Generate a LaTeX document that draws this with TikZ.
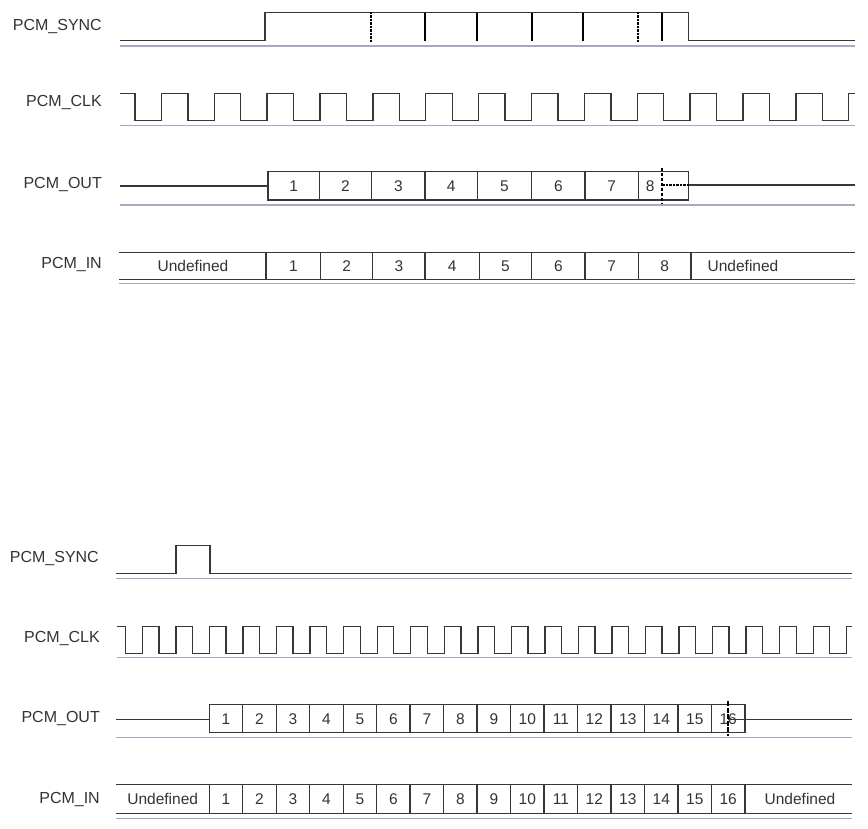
\documentclass[tikz,border=0pt]{standalone}
\usepackage{fontspec}
\setmainfont{Liberation Sans}
\definecolor{basegray}{RGB}{168,168,196}
\definecolor{sigcol}{RGB}{55,55,55}
\begin{document}
\begin{tikzpicture}[x=1pt,y=-1pt,
  sig/.style={draw=sigcol,line width=1.4pt,line join=miter},
  base/.style={draw=basegray,line width=1.3pt},
  smark/.style={draw=black,line width=2pt},
  sdmark/.style={draw=black,line width=2.3pt,dash pattern=on 2.5pt off 1pt},
  lbl/.style={anchor=east,inner sep=0pt,font=\fontsize{16}{18}\selectfont,text=black!80},
  cell/.style={inner sep=0pt,font=\fontsize{15.5}{18}\selectfont,text=black!80}]
\useasboundingbox (0,0) rectangle (868,829);
\fill[white] (0,0) rectangle (868,829);
% ================= TOP =================
\node[lbl] (tsync) at (102,27) {PCM\_SYNC};
\node[lbl] (tclk) at (102,103) {PCM\_CLK};
\node[lbl] (tout) at (102,185) {PCM\_OUT};
\node[lbl] (tin) at (102,265) {PCM\_IN};
% sync
\draw[sig] (120,40.7) -- (265,40.7) -- (265,12.7) -- (688.7,12.7) -- (688.7,40.7) -- (855,40.7);
\foreach \x in {425,477.3,531.7,582.7,662.3} \draw[smark] (\x,12.7) -- (\x,40.7);
\foreach \x in {371,638.3} \draw[sdmark] (\x,11.7) -- (\x,41.7);
\draw[base] (120,46) -- (855,46);
% clk
\draw[sig] (120,93.3) foreach \k in {0,...,13} { -- ({135+52.87*\k},93.3) -- ({135+52.87*\k},120.7) -- ({161.4+52.87*\k},120.7) -- ({161.4+52.87*\k},93.3) } -- (855,93.3);
\draw[base] (120,125.7) -- (855,125.7);
% out
\draw[sig] (120,186) -- (268,186);
\draw[sig] (268,171.7) rectangle (688.7,200);
\foreach \x in {319.3,371.7,425,477.3,531.7,585,638.3} \draw[sig] (\x,171.7) -- (\x,200);
\foreach \a/\b/\n in {268/319.3/1,319.3/371.7/2,371.7/425/3,425/477.3/4,477.3/531.7/5,531.7/585/6,585/638.3/7,638.3/662.3/8}
  \node[cell] (to\n) at ({(\a+\b)/2},186) {\n};
\draw[draw=black,line width=2pt,dash pattern=on 3.5pt off 1.5pt] (662.3,168) -- (662.3,204);
\draw[draw=black,line width=2pt,dash pattern=on 2.5pt off 1pt] (662.3,185) -- (688.7,185);
\draw[sig] (688.7,185) -- (855,185);
\draw[base] (120,205) -- (855,205);
% in
\draw[sig] (119.3,252.3) -- (855,252.3);
\draw[sig] (119.3,279.3) -- (855,279.3);
\draw[base] (119.3,283.3) -- (855,283.3);
\foreach \x in {266,320.7,372.7,425,479.3,531.7,585,638.3,691} \draw[sig] (\x,252.3) -- (\x,279.3);
\node[cell] (tiu1) at (193,266) {Undefined};
\foreach \a/\b/\n in {266/320.7/1,320.7/372.7/2,372.7/425/3,425/479.3/4,479.3/531.7/5,531.7/585/6,585/638.3/7,638.3/691/8}
  \node[cell] (ti\n) at ({(\a+\b)/2},266) {\n};
\node[cell] (tiu2) at (743,266) {Undefined};
% ================= BOTTOM =================
\node[lbl] (bsync) at (99,559) {PCM\_SYNC};
\node[lbl] (bclk) at (100,639) {PCM\_CLK};
\node[lbl] (bout) at (100,719) {PCM\_OUT};
\node[lbl] (bin) at (100,799) {PCM\_IN};
% sync
\draw[sig] (116,573.3) -- (176,573.3) -- (176,545.7) -- (210,545.7) -- (210,573.3) -- (851.7,573.3);
\draw[base] (116,578.7) -- (851.7,578.7);
% clk
\draw[sig] (116.7,626.7) foreach \k in {0,...,21} { -- ({125.5+33.535*\k},626.7) -- ({125.5+33.535*\k},653.3) -- ({142.5+33.535*\k},653.3) -- ({142.5+33.535*\k},626.7) } -- (851.7,626.7);
\draw[base] (116.7,657.7) -- (851.7,657.7);
% out
\draw[sig] (116,719.3) -- (209.3,719.3);
\draw[sig] (209.3,704.3) rectangle (745,732.7);
\foreach \k in {1,...,15} \draw[sig] ({209.3+33.48*\k},704.3) -- ({209.3+33.48*\k},732.7);
\foreach \k in {1,...,16} \node[cell] (bo\k) at ({209.3+33.48*(\k-0.5)},719.3) {\k};
\draw[draw=black,line width=2pt,dash pattern=on 5pt off 1.5pt] (727.7,701) -- (727.7,736);
\draw[sig] (727.7,719.3) -- (851.7,719.3);
\draw[base] (116,737.7) -- (851.7,737.7);
% in
\draw[sig] (116,784.3) -- (851.7,784.3);
\draw[sig] (116,813.3) -- (851.7,813.3);
\draw[base] (116,818.3) -- (851.7,818.3);
\foreach \k in {0,...,16} \draw[sig] ({209.3+33.48*\k},784.3) -- ({209.3+33.48*\k},813.3);
\node[cell] (biu1) at (162.7,799) {Undefined};
\foreach \k in {1,...,16} \node[cell] (bi\k) at ({209.3+33.48*(\k-0.5)},799) {\k};
\node[cell] (biu2) at (800,799) {Undefined};
\end{tikzpicture}
\end{document}
